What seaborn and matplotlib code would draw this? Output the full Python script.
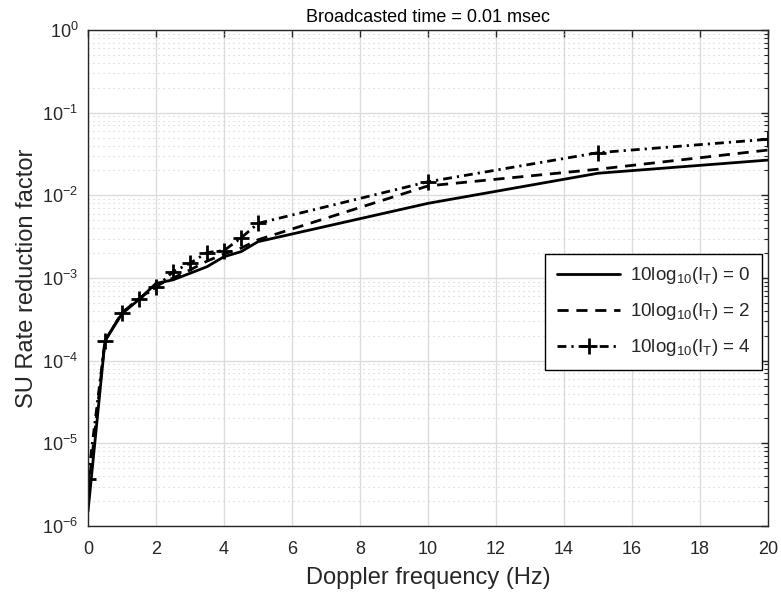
import numpy as np
import pandas as pd
import matplotlib
matplotlib.use("Agg")
import matplotlib.pyplot as plt
import seaborn as sns
from matplotlib.ticker import LogLocator, FixedLocator, NullFormatter

# ---- data ----
doppler = [0, 0.5, 1, 1.5, 2, 2.5, 3, 3.5, 4, 4.5, 5, 10, 15, 20]
rate_it0 = [1.5e-6, 1.74e-4, 3.7e-4, 5.5e-4, 8.6e-4, 9.5e-4, 1.14e-3, 1.37e-3, 1.81e-3, 2.08e-3, 2.75e-3, 8.0e-3, 1.85e-2, 2.67e-2]
rate_it2 = [2.5e-6, 1.74e-4, 3.8e-4, 5.6e-4, 8.0e-4, 1.0e-3, 1.25e-3, 1.6e-3, 1.95e-3, 2.3e-3, 2.9e-3, 1.3e-2, 2.07e-2, 3.53e-2]
rate_it4 = [3.7e-6, 1.74e-4, 3.8e-4, 5.6e-4, 7.7e-4, 1.19e-3, 1.51e-3, 2.03e-3, 2.15e-3, 3.05e-3, 4.58e-3, 1.46e-2, 3.28e-2, 4.77e-2]
labels = ["10log$_{10}$(I$_T$) = 0", "10log$_{10}$(I$_T$) = 2", "10log$_{10}$(I$_T$) = 4"]
title = "Broadcasted time = 0.01 msec"
xlabel = "Doppler frequency (Hz)"
ylabel = "SU Rate reduction factor"
xticks = [0, 2, 4, 6, 8, 10, 12, 14, 16, 18, 20]
yticks = [1e-6, 1e-5, 1e-4, 1e-3, 1e-2, 1e-1, 1e0]

df = pd.DataFrame({
    "x": doppler * 3,
    "y": rate_it0 + rate_it2 + rate_it4,
    "series": [labels[0]] * len(doppler) + [labels[1]] * len(doppler) + [labels[2]] * len(doppler),
})

sns.set_theme(style="white")
plt.rcParams["font.family"] = ["Liberation Sans", "DejaVu Sans"]
plt.rcParams["mathtext.fontset"] = "custom"
plt.rcParams["mathtext.rm"] = "Liberation Sans"
plt.rcParams["mathtext.it"] = "Liberation Sans"
plt.rcParams["mathtext.default"] = "regular"
plt.rcParams["axes.unicode_minus"] = False

W, H = 781, 597
L, R, T, B = 88, 768, 30, 526
fig = plt.figure(figsize=(W / 100, H / 100), dpi=100)
ax = fig.add_axes([L / W, 1 - B / H, (R - L) / W, (B - T) / H])

styles = [
    dict(linestyle="-", marker=None),
    dict(linestyle=(0, (4, 2.8)), marker=None),
    dict(linestyle=(0, (3.2, 1.8, 0.8, 1.8)), marker="+"),
]
for lab, st in zip(labels, styles):
    sub = df[df["series"] == lab]
    sns.lineplot(data=sub, x="x", y="y", ax=ax, color="black", linewidth=2,
                 linestyle=st["linestyle"], marker=st["marker"], markersize=12,
                 markeredgewidth=2, markeredgecolor="black", markerfacecolor="black",
                 label=lab, legend=False)

ax.set_yscale("log")
ax.set_xlim(0, 20)
ax.set_ylim(1e-6, 1e0)
ax.xaxis.set_major_locator(FixedLocator(xticks))
ax.yaxis.set_major_locator(FixedLocator(yticks))
ax.yaxis.set_minor_locator(LogLocator(base=10, subs=np.arange(2, 10), numticks=20))
ax.yaxis.set_minor_formatter(NullFormatter())

ax.grid(True, which="major", color="#dcdcdc", linewidth=1, linestyle="-")
ax.grid(True, which="minor", axis="y", color="#cfcfcf", linewidth=0.8, linestyle=(0, (1, 3.5)))
ax.set_axisbelow(True)

ax.tick_params(axis="both", which="both", direction="in", top=True, right=True,
               colors="#262626", labelcolor="#262626", labelsize=13)
ax.tick_params(axis="both", which="major", length=5, width=1)
ax.tick_params(axis="y", which="minor", length=3, width=0.8)
ax.tick_params(axis="x", which="major", pad=11)
ax.tick_params(axis="y", which="major", pad=7)
for s in ax.spines.values():
    s.set_color("#262626")
    s.set_linewidth(1)

ax.set_title(title, fontsize=13, color="black", pad=6)
ax.set_xlabel(xlabel, fontsize=17, color="#262626", labelpad=6)
ax.set_ylabel(ylabel, fontsize=17, color="#262626", labelpad=3)

leg = ax.legend(loc="upper right", bbox_to_anchor=(0.991, 0.548), fontsize=13.5,
                frameon=True, fancybox=False, edgecolor="black", framealpha=1,
                handlelength=3.4, borderpad=0.6, labelspacing=0.8, handletextpad=0.5,
                borderaxespad=0)
leg.get_frame().set_linewidth(1)

fig.savefig("out.png", dpi=100, facecolor="white")
